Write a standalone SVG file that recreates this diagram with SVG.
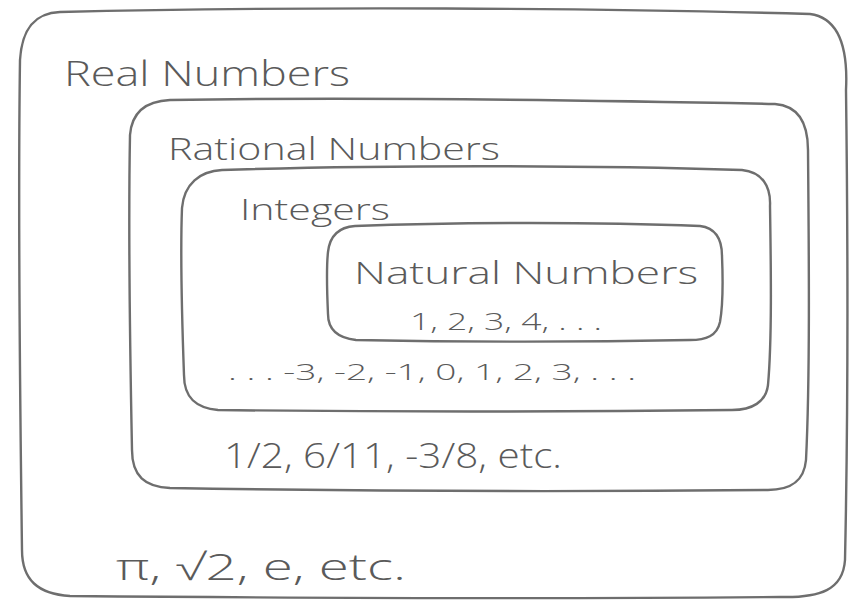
<svg xmlns="http://www.w3.org/2000/svg" width="854" height="603" viewBox="0 0 854 603">
<style>
.set{fill:none;stroke:#6e6e6e;stroke-width:2.4;stroke-linecap:round;stroke-linejoin:round}
.t{font-family:"Open Sans","Liberation Sans",sans-serif;fill:#5a5a5a;font-weight:300}
</style>
<rect width="854" height="603" fill="#fff"/>
<g id="real">
<path class="set" d="M60,12 C300,6 600,8 810,14 C840,18 848,50 846,90 C848,250 848,420 845,560 C843,590 820,598 780,597 C560,599 300,598 70,596 C38,594 22,580 22,550 C20,400 18,200 20,60 C22,28 35,13 60,12 Z"/>
<text class="t" x="64" y="86" font-size="34" textLength="286" lengthAdjust="spacingAndGlyphs">Real Numbers</text>
<text class="t" x="116" y="580" font-size="36" textLength="290" lengthAdjust="spacingAndGlyphs">π, √2, e, etc.</text>
</g>
<g id="rational">
<path class="set" d="M170,100 C350,97 580,100 775,104 C800,106 808,125 808,150 C809,260 810,380 806,460 C804,482 790,490 768,490 C560,492 350,491 170,488 C145,487 132,476 132,450 C130,350 128,240 130,135 C132,110 148,101 170,100 Z"/>
<text class="t" x="168" y="160" font-size="32" textLength="332" lengthAdjust="spacingAndGlyphs">Rational Numbers</text>
<text class="t" x="224" y="468" font-size="34" textLength="338" lengthAdjust="spacingAndGlyphs">1/2, 6/11, -3/8, etc.</text>
</g>
<g id="integers">
<path class="set" d="M222,170 C380,165 580,165 742,170 C762,172 771,186 770,206 C771,270 772,340 768,385 C766,402 752,410 732,410 C560,412 380,412 218,410 C196,408 184,398 184,375 C182,320 180,260 182,208 C184,184 200,171 222,170 Z"/>
<text class="t" x="240" y="220" font-size="30" textLength="150" lengthAdjust="spacingAndGlyphs">Integers</text>
<text class="t" x="228" y="380" font-size="22" textLength="408" lengthAdjust="spacingAndGlyphs">. . . -3, -2, -1, 0, 1, 2, 3, . . .</text>
</g>
<g id="natural">
<path class="set" d="M355,226 C460,222 600,222 700,226 C716,228 722,240 722,256 C723,280 723,305 720,322 C717,336 706,340 690,340 C590,342 460,342 356,340 C338,338 328,330 328,314 C327,292 326,270 328,252 C330,234 340,227 355,226 Z"/>
<text class="t" x="354" y="284" font-size="32" textLength="344" lengthAdjust="spacingAndGlyphs">Natural Numbers</text>
<text class="t" x="410" y="330" font-size="24" textLength="192" lengthAdjust="spacingAndGlyphs">1, 2, 3, 4, . . .</text>
</g>
<g id="connectors"></g>
</svg>
